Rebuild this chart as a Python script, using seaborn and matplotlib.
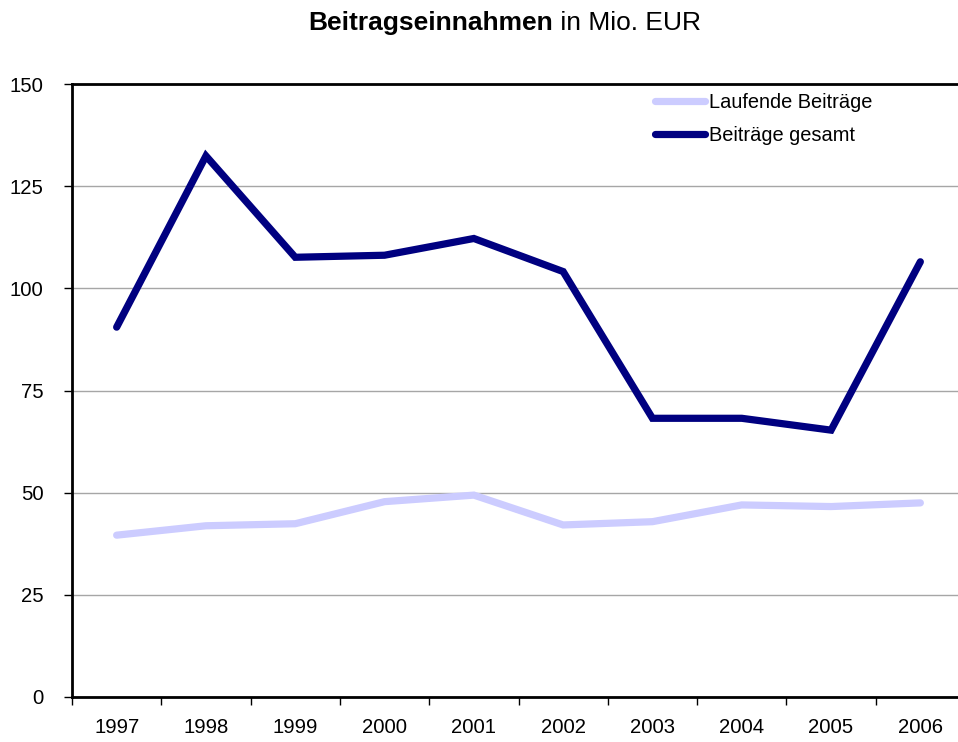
import matplotlib
matplotlib.use("Agg")
import matplotlib.pyplot as plt
import seaborn as sns
import pandas as pd
import numpy as np
from matplotlib.ticker import FixedLocator, NullFormatter

years = ["1997", "1998", "1999", "2000", "2001", "2002", "2003", "2004", "2005", "2006"]
laufende = [39.6, 41.9, 42.4, 47.8, 49.4, 42.1, 42.9, 47.0, 46.6, 47.5]
gesamt = [90.5, 132.4, 107.6, 108.1, 112.2, 104.1, 68.2, 68.2, 65.3, 106.5]
series_names = ["Laufende Beiträge", "Beiträge gesamt"]
colors = ["#CCCCFF", "#000080"]
yticks = [0, 25, 50, 75, 100, 125, 150]

sns.set_theme(style="white")
plt.rcParams["font.family"] = ["Liberation Sans", "DejaVu Sans"]

W, H = 958, 742
fig = plt.figure(figsize=(W / 100, H / 100), dpi=100)
ax = fig.add_axes([72 / W, (H - 697) / H, (965 - 72) / W, (697 - 84) / H])

df = pd.DataFrame({
    "pos": list(range(len(years))) * 2,
    "value": laufende + gesamt,
    "series": [series_names[0]] * len(years) + [series_names[1]] * len(years),
})

LW = 5.2
sns.lineplot(data=df, x="pos", y="value", hue="series", hue_order=series_names,
             palette=colors, linewidth=LW, ax=ax, legend=True)
for ln in ax.get_lines():
    ln.set_solid_capstyle("round")
    ln.set_solid_joinstyle("miter")

ax.set_xlim(-0.5, len(years) - 0.5)
ax.set_ylim(0, 150)
ax.set_xlabel("")
ax.set_ylabel("")

ax.set_yticks(yticks)
ax.set_yticklabels([str(v) for v in yticks], fontsize=14.6, color="black")
ax.set_xticks(range(len(years)))
ax.set_xticklabels(years, fontsize=14.6, color="black")
ax.xaxis.set_minor_locator(FixedLocator(np.arange(-0.5, len(years), 1.0)))
ax.xaxis.set_minor_formatter(NullFormatter())
ax.tick_params(axis="x", which="major", length=0, pad=15)
ax.tick_params(axis="x", which="minor", length=6, width=1, color="black", direction="out", bottom=True)
ax.tick_params(axis="y", which="major", length=6, width=1, color="black", direction="out", pad=14.4, left=True)

ax.grid(axis="y", color="#A6A6A6", linewidth=1)
ax.grid(axis="x", visible=False)
ax.set_axisbelow(True)

for side in ["left", "bottom", "top"]:
    ax.spines[side].set_visible(True)
    ax.spines[side].set_color("black")
    ax.spines[side].set_linewidth(2)
ax.spines["right"].set_visible(False)

leg = ax.legend(loc="upper left", bbox_to_anchor=(655 / W, 1 - 93 / H),
                bbox_transform=fig.transFigure, frameon=False, fontsize=14.4,
                handlelength=2.5, handletextpad=0.2, borderpad=0, borderaxespad=0,
                labelspacing=0.72)
for h in leg.get_lines():
    h.set_linewidth(LW)
    h.set_solid_capstyle("round")
for t in leg.get_texts():
    t.set_color("black")

fig.text(553 / W, 1 - 30 / H, "Beitragseinnahmen", ha="right", va="baseline",
         fontsize=19, fontweight="bold", color="black")
fig.text(553 / W, 1 - 30 / H, " in Mio. EUR", ha="left", va="baseline",
         fontsize=19, color="black")

fig.savefig("out.png", dpi=100)
